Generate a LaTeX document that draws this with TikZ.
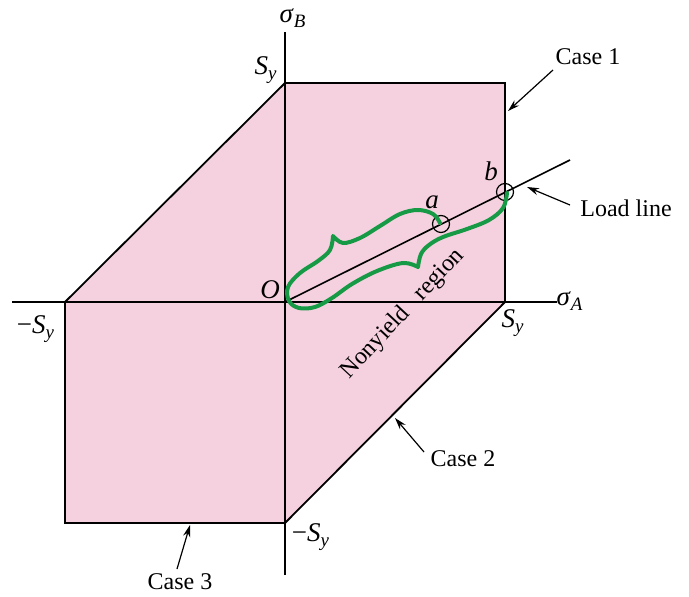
\documentclass[tikz,border=0pt]{standalone}
\usepackage{fontspec}
\setmainfont{Liberation Serif}
\usetikzlibrary{arrows.meta}
\definecolor{pinkfill}{RGB}{245,208,222}
\definecolor{bracegreen}{RGB}{22,154,70}
\newcommand\mylab[2]{\textit{#1}\textsubscript{\textit{#2}}}
\tikzset{
  axis/.style={line width=0.9pt, black},
  edge/.style={line width=0.9pt, black},
  lbl/.style={inner sep=1pt, font=\fontsize{12}{14}\selectfont},
  mlbl/.style={inner sep=1pt, font=\fontsize{13.5}{15}\selectfont},
  callout/.style={line width=0.6pt, -{Stealth[length=6pt,width=3.6pt]}},
  ptcircle/.style={circle, draw, line width=0.6pt, minimum size=8.5pt, inner sep=0pt},
  brace/.style={line width=2pt, bracegreen, line join=round, line cap=round}
}
\begin{document}
\begin{tikzpicture}[x=0.5pt, y=-0.5pt]
\useasboundingbox (0,0) rectangle (689,597);
% region
\fill[pinkfill] (65,302) -- (285,83) -- (505,83) -- (505,302) -- (285,523) -- (65,523) -- cycle;
% axes
\coordinate (xl) at (12,302);
\coordinate (xr) at (557,302);
\coordinate (yt) at (285,32);
\coordinate (yb) at (285,575);
\draw[axis] (xl) -- (xr);
\draw[axis] (yb) -- (yt);
% boundary
\coordinate (P1) at (65,302);
\coordinate (P2) at (285,83);
\coordinate (P3) at (505,83);
\coordinate (P4) at (505,302);
\coordinate (P5) at (285,523);
\coordinate (P6) at (65,523);
\draw[edge, line join=miter] (P1) -- (P2) -- (P3) -- (P4) -- (P5) -- (P6) -- (P1);
% load line
\coordinate (O) at (285,302);
\coordinate (L) at (570,160);
\draw[line width=0.8pt] (O) -- (L);
\node[ptcircle] (a) at (441,224) {};
\node[ptcircle] (b) at (505,192) {};
% green braces
\draw[brace]
  plot[smooth, tension=0.6] coordinates {(440,223) (433,214) (418,210) (400,214) (380,226) (360,238) (343,243) (333,236)}
  -- plot[smooth, tension=0.6] coordinates {(333,236) (330,250) (318,261) (300,273) (288,287) (289,301) (299,308) (315,307) (332,298) (352,284) (377,271) (403,263) (418,267)}
  -- plot[smooth, tension=0.6] coordinates {(418,267) (421,254) (429,245) (443,237) (467,229) (489,220) (503,208) (507,193)};
% labels
\node[mlbl] (sB) at (293,18) {\mylab{σ}{B}};
\node[mlbl] (sA) at (570,301) {\mylab{σ}{A}};
\node[mlbl] (Syt) at (266,70) {\mylab{S}{y}};
\node[mlbl] (Syr) at (513,323) {\mylab{S}{y}};
\node[mlbl] (Syl) at (36,329) {−\mylab{S}{y}};
\node[mlbl] (Syb) at (311,537) {−\mylab{S}{y}};
\node[mlbl] (Olbl) at (270,290) {\textit{O}};
\node[mlbl] (albl) at (432,202) {\textit{a}};
\node[mlbl] (blbl) at (491,171) {\textit{b}};
\node[lbl, rotate=47] (ny) at (403,314) {Nonyield\hspace{9pt}region};
% callouts
\node[lbl] (c1) at (588,57) {Case 1};
\node[lbl] (ll) at (626,208) {Load line};
\node[lbl] (c2) at (463,459) {Case 2};
\node[lbl] (c3) at (180,582) {Case 3};
\coordinate (c1t) at (508,111);
\coordinate (llt) at (527,187);
\coordinate (c2t) at (395,418);
\coordinate (c3t) at (190,525);
\coordinate (c1s) at (553,70);
\coordinate (lls) at (570,205);
\coordinate (c2s) at (424,452);
\coordinate (c3s) at (177,569);
\draw[callout] (c1s) -- (c1t);
\draw[callout] (lls) -- (llt);
\draw[callout] (c2s) -- (c2t);
\draw[callout] (c3s) -- (c3t);
\end{tikzpicture}
\end{document}
